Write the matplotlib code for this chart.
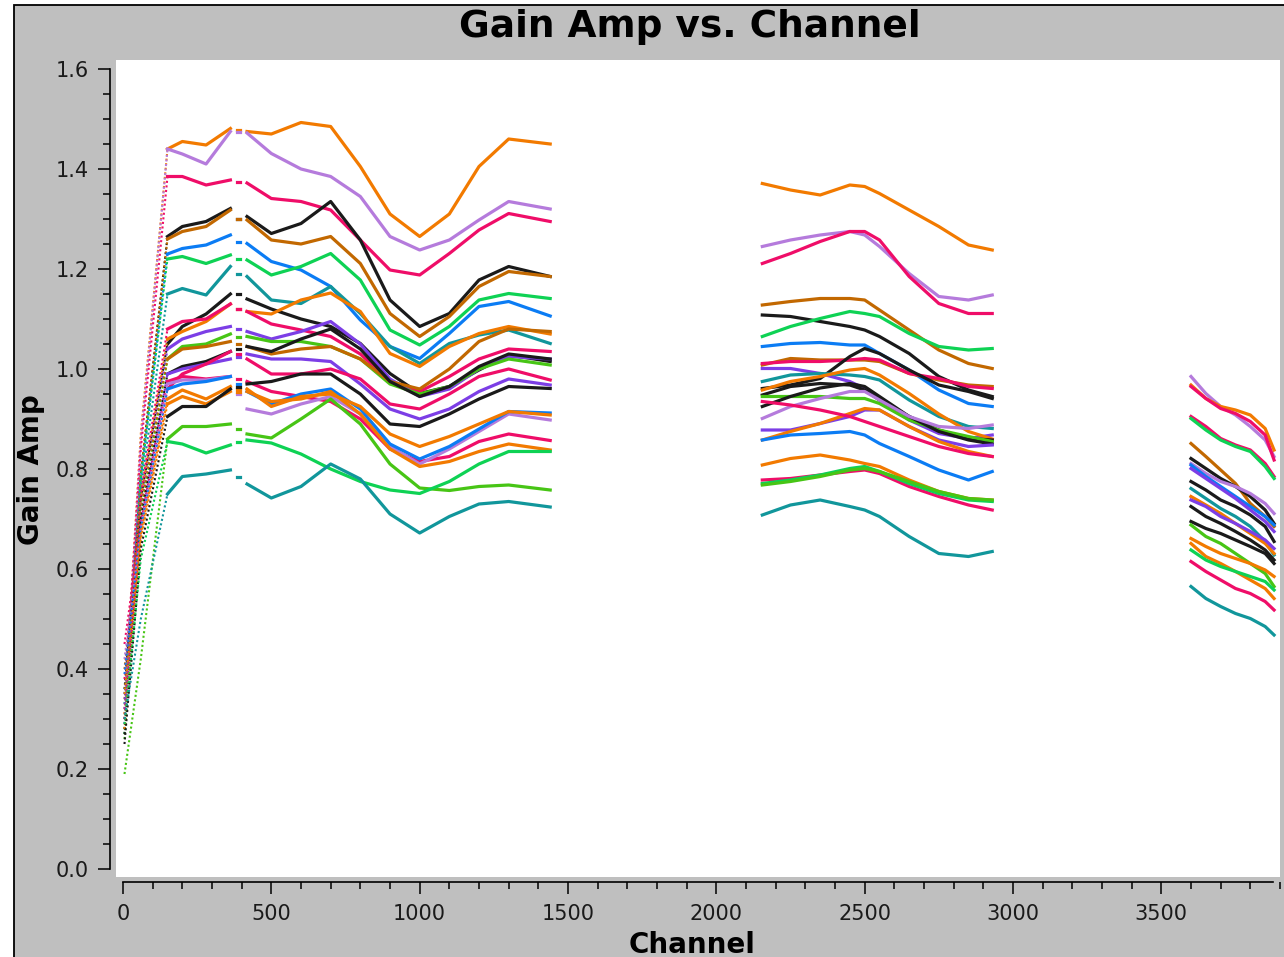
import matplotlib
matplotlib.use("Agg")
import matplotlib.pyplot as plt
from matplotlib.patches import Rectangle
from matplotlib.ticker import MultipleLocator

# plotms antenna colours
OR = "#f27a00"   # orange
LV = "#b57bdc"   # lavender
PK = "#ef0d68"   # pink
BK = "#1a1a1a"   # black
BR = "#c26800"   # brown
BL = "#0b7cf4"   # blue
GR = "#0ed254"   # green
TL = "#11969b"   # teal
VI = "#7c3ee6"   # violet
LI = "#47c515"   # lime

# ---- spw 0 : channels 5..1440 (ramp, short flagged gap around ch 370-415) ----
spw0_chan = [5, 60, 150, 200, 280, 362, 390, 418, 500, 600, 700, 800, 900, 1000, 1100, 1200, 1300, 1440]
spw0_colors = [OR, LV, PK, BK, BR, BL, GR, TL, BK, OR, PK, VI, LI, BR, BK, VI,
               PK, PK, LV, BL, OR, OR, BK, LI, GR, TL]
spw0_amp = [
    [0.32, 0.87, 1.44, 1.455, 1.448, 1.481, 1.478, 1.475, 1.470, 1.493, 1.485, 1.405, 1.310, 1.265, 1.310, 1.405, 1.460, 1.450],
    [0.30, 0.86, 1.44, 1.430, 1.410, 1.475, 1.475, 1.472, 1.431, 1.400, 1.385, 1.345, 1.265, 1.238, 1.258, 1.298, 1.335, 1.320],
    [0.34, 0.84, 1.385, 1.385, 1.368, 1.378, 1.375, 1.372, 1.341, 1.335, 1.318, 1.258, 1.198, 1.188, 1.231, 1.278, 1.311, 1.295],
    [0.28, 0.79, 1.265, 1.285, 1.295, 1.321, 1.300, 1.305, 1.271, 1.291, 1.335, 1.258, 1.138, 1.085, 1.111, 1.178, 1.205, 1.185],
    [0.30, 0.79, 1.26, 1.275, 1.285, 1.318, 1.300, 1.298, 1.258, 1.250, 1.265, 1.211, 1.111, 1.065, 1.105, 1.165, 1.195, 1.185],
    [0.35, 0.78, 1.23, 1.241, 1.248, 1.268, 1.255, 1.251, 1.215, 1.198, 1.165, 1.098, 1.045, 1.021, 1.071, 1.125, 1.135, 1.106],
    [0.27, 0.78, 1.22, 1.225, 1.211, 1.228, 1.220, 1.218, 1.188, 1.205, 1.231, 1.178, 1.078, 1.048, 1.085, 1.138, 1.151, 1.141],
    [0.33, 0.76, 1.15, 1.161, 1.148, 1.205, 1.190, 1.185, 1.138, 1.131, 1.165, 1.111, 1.045, 1.011, 1.051, 1.068, 1.078, 1.051],
    [0.36, 0.74, 1.05, 1.085, 1.110, 1.150, 1.150, 1.140, 1.120, 1.100, 1.085, 1.051, 0.991, 0.951, 0.965, 0.998, 1.028, 1.015],
    [0.31, 0.74, 1.06, 1.075, 1.095, 1.130, 1.120, 1.115, 1.110, 1.138, 1.152, 1.115, 1.031, 1.005, 1.045, 1.071, 1.085, 1.070],
    [0.38, 0.75, 1.08, 1.095, 1.100, 1.130, 1.120, 1.115, 1.090, 1.078, 1.065, 1.030, 0.975, 0.955, 0.985, 1.020, 1.040, 1.035],
    [0.29, 0.72, 1.04, 1.060, 1.075, 1.085, 1.080, 1.075, 1.060, 1.075, 1.095, 1.050, 0.980, 0.945, 0.960, 1.000, 1.025, 1.020],
    [0.26, 0.71, 1.02, 1.045, 1.050, 1.070, 1.065, 1.065, 1.055, 1.055, 1.045, 1.020, 0.970, 0.950, 0.965, 1.000, 1.020, 1.008],
    [0.40, 0.72, 1.02, 1.040, 1.045, 1.055, 1.050, 1.045, 1.030, 1.040, 1.045, 1.020, 0.975, 0.960, 1.000, 1.055, 1.080, 1.075],
    [0.27, 0.70, 0.99, 1.005, 1.015, 1.035, 1.040, 1.045, 1.035, 1.060, 1.080, 1.040, 0.975, 0.945, 0.965, 1.005, 1.030, 1.020],
    [0.32, 0.69, 0.99, 1.000, 1.010, 1.020, 1.025, 1.030, 1.020, 1.020, 1.015, 0.970, 0.920, 0.900, 0.920, 0.955, 0.980, 0.968],
    [0.30, 0.68, 0.96, 0.990, 1.010, 1.035, 1.030, 1.020, 0.990, 0.990, 1.000, 0.980, 0.930, 0.920, 0.950, 0.985, 1.000, 0.978],
    [0.45, 0.69, 0.975, 0.985, 0.980, 0.985, 0.980, 0.975, 0.955, 0.945, 0.935, 0.900, 0.840, 0.815, 0.825, 0.855, 0.870, 0.857],
    [0.42, 0.68, 0.97, 0.978, 0.978, 0.985, 0.950, 0.920, 0.910, 0.930, 0.945, 0.910, 0.845, 0.810, 0.840, 0.875, 0.910, 0.898],
    [0.39, 0.68, 0.96, 0.970, 0.975, 0.985, 0.970, 0.955, 0.930, 0.950, 0.960, 0.920, 0.850, 0.820, 0.845, 0.880, 0.915, 0.912],
    [0.35, 0.67, 0.94, 0.958, 0.940, 0.965, 0.960, 0.960, 0.925, 0.945, 0.950, 0.925, 0.870, 0.845, 0.865, 0.890, 0.915, 0.908],
    [0.28, 0.66, 0.93, 0.945, 0.930, 0.955, 0.955, 0.955, 0.935, 0.940, 0.955, 0.910, 0.840, 0.805, 0.815, 0.835, 0.850, 0.838],
    [0.25, 0.64, 0.905, 0.925, 0.925, 0.960, 0.965, 0.970, 0.975, 0.990, 0.990, 0.950, 0.890, 0.885, 0.910, 0.940, 0.965, 0.961],
    [0.19, 0.42, 0.86, 0.885, 0.885, 0.890, 0.880, 0.870, 0.862, 0.900, 0.940, 0.890, 0.810, 0.762, 0.757, 0.765, 0.768, 0.758],
    [0.29, 0.62, 0.855, 0.850, 0.832, 0.848, 0.855, 0.858, 0.852, 0.830, 0.800, 0.775, 0.758, 0.751, 0.775, 0.810, 0.835, 0.835],
    [0.30, 0.50, 0.75, 0.785, 0.790, 0.798, 0.785, 0.770, 0.742, 0.765, 0.810, 0.780, 0.710, 0.672, 0.705, 0.730, 0.735, 0.724],
]

# ---- spw 1 : channels 2155..2930 ----
spw1_chan = [2155, 2250, 2350, 2450, 2500, 2550, 2650, 2750, 2850, 2930]
spw1_colors = [OR, LV, PK, BR, BK, GR, BL, BR, PK, BK, VI, TL, OR,
               BK, LI, BK, LV, VI, OR, BL, PK, OR, PK, GR, LI, TL]
spw1_amp = [
    [1.371, 1.358, 1.348, 1.368, 1.365, 1.351, 1.318, 1.285, 1.248, 1.238],
    [1.245, 1.258, 1.268, 1.275, 1.268, 1.245, 1.191, 1.145, 1.138, 1.148],
    [1.211, 1.231, 1.255, 1.275, 1.275, 1.258, 1.185, 1.131, 1.111, 1.111],
    [1.128, 1.135, 1.141, 1.141, 1.138, 1.118, 1.078, 1.038, 1.011, 1.001],
    [1.108, 1.105, 1.095, 1.085, 1.078, 1.065, 1.031, 0.985, 0.958, 0.945],
    [1.065, 1.085, 1.101, 1.115, 1.111, 1.105, 1.071, 1.045, 1.038, 1.041],
    [1.045, 1.051, 1.053, 1.048, 1.048, 1.031, 0.998, 0.958, 0.931, 0.925],
    [1.008, 1.021, 1.018, 1.018, 1.018, 1.015, 0.991, 0.978, 0.968, 0.965],
    [1.011, 1.015, 1.015, 1.018, 1.021, 1.018, 0.991, 0.981, 0.965, 0.961],
    [0.961, 0.968, 0.981, 1.025, 1.041, 1.031, 0.998, 0.968, 0.955, 0.941],
    [1.001, 1.001, 0.991, 0.975, 0.961, 0.938, 0.898, 0.871, 0.861, 0.868],
    [0.975, 0.988, 0.991, 0.988, 0.985, 0.978, 0.938, 0.905, 0.885, 0.881],
    [0.958, 0.975, 0.985, 0.998, 1.001, 0.988, 0.951, 0.910, 0.875, 0.860],
    [0.948, 0.965, 0.971, 0.968, 0.958, 0.938, 0.905, 0.878, 0.861, 0.858],
    [0.945, 0.945, 0.945, 0.941, 0.941, 0.931, 0.898, 0.878, 0.865, 0.855],
    [0.925, 0.945, 0.962, 0.971, 0.965, 0.945, 0.905, 0.875, 0.858, 0.850],
    [0.901, 0.925, 0.941, 0.955, 0.955, 0.938, 0.905, 0.885, 0.881, 0.888],
    [0.878, 0.878, 0.891, 0.905, 0.918, 0.918, 0.885, 0.858, 0.845, 0.848],
    [0.858, 0.875, 0.891, 0.911, 0.921, 0.918, 0.885, 0.855, 0.835, 0.825],
    [0.858, 0.868, 0.871, 0.875, 0.868, 0.851, 0.825, 0.798, 0.778, 0.795],
    [0.935, 0.928, 0.918, 0.905, 0.895, 0.885, 0.865, 0.845, 0.831, 0.825],
    [0.808, 0.821, 0.828, 0.818, 0.811, 0.805, 0.778, 0.755, 0.741, 0.738],
    [0.778, 0.781, 0.788, 0.795, 0.798, 0.791, 0.765, 0.745, 0.728, 0.718],
    [0.771, 0.778, 0.788, 0.801, 0.805, 0.795, 0.771, 0.751, 0.738, 0.735],
    [0.768, 0.775, 0.785, 0.798, 0.801, 0.795, 0.775, 0.755, 0.741, 0.738],
    [0.708, 0.728, 0.738, 0.725, 0.718, 0.705, 0.665, 0.631, 0.625, 0.635],
]

# ---- spw 2 : channels 3600..3880 ----
spw2_chan = [3600, 3650, 3700, 3750, 3800, 3850, 3880]
spw2_colors = [LV, OR, PK, PK, GR, BR, BK, LV, BL, VI, BK,
               TL, OR, VI, BK, BK, LI, OR, OR, GR, PK, TL]
spw2_amp = [
    [0.985, 0.951, 0.925, 0.908, 0.885, 0.858, 0.825],
    [0.968, 0.941, 0.925, 0.918, 0.908, 0.881, 0.838],
    [0.965, 0.941, 0.921, 0.911, 0.895, 0.868, 0.818],
    [0.905, 0.885, 0.861, 0.848, 0.838, 0.811, 0.785],
    [0.901, 0.878, 0.858, 0.845, 0.835, 0.805, 0.781],
    [0.851, 0.825, 0.798, 0.771, 0.731, 0.705, 0.685],
    [0.821, 0.801, 0.781, 0.765, 0.745, 0.718, 0.691],
    [0.811, 0.791, 0.775, 0.765, 0.751, 0.731, 0.711],
    [0.808, 0.785, 0.765, 0.745, 0.725, 0.705, 0.688],
    [0.801, 0.781, 0.761, 0.741, 0.718, 0.695, 0.675],
    [0.775, 0.758, 0.738, 0.725, 0.708, 0.685, 0.655],
    [0.761, 0.741, 0.721, 0.705, 0.685, 0.655, 0.628],
    [0.745, 0.728, 0.711, 0.691, 0.671, 0.651, 0.631],
    [0.738, 0.725, 0.705, 0.691, 0.675, 0.658, 0.641],
    [0.725, 0.705, 0.691, 0.675, 0.658, 0.638, 0.618],
    [0.695, 0.681, 0.671, 0.658, 0.645, 0.631, 0.611],
    [0.688, 0.665, 0.651, 0.631, 0.611, 0.591, 0.565],
    [0.661, 0.645, 0.631, 0.621, 0.611, 0.598, 0.585],
    [0.651, 0.625, 0.611, 0.595, 0.578, 0.561, 0.541],
    [0.638, 0.618, 0.605, 0.595, 0.585, 0.575, 0.558],
    [0.615, 0.595, 0.578, 0.561, 0.551, 0.535, 0.518],
    [0.565, 0.541, 0.525, 0.511, 0.501, 0.485, 0.468],
]

W, H = 1284, 957
fig = plt.figure(figsize=(W / 100, H / 100), dpi=100, facecolor="white")
fig.patches.append(Rectangle((14 / W, -0.01), 1.0, 1 - 5 / H + 0.01, transform=fig.transFigure,
                             facecolor="#bfbfbf", edgecolor="black", lw=1.3, zorder=-5))

ax = fig.add_axes([116 / W, 1 - 877 / H, (1280 - 116) / W, (877 - 60) / H])
ax.set_facecolor("white")
LW = 2.3

# spw 0
for col, amp in zip(spw0_colors, spw0_amp):
    ax.plot(spw0_chan[:3], amp[:3], color=col, lw=1.5, ls=(0, (1, 1.2)))
    ax.plot(spw0_chan[2:6], amp[2:6], color=col, lw=LW)
    c = spw0_chan[6]
    ax.plot([c - 5, c + 5], [amp[6], amp[6]], color=col, lw=LW)
    ax.plot(spw0_chan[7:], amp[7:], color=col, lw=LW)

# spw 1 and 2
for chan, colors, amps in [(spw1_chan, spw1_colors, spw1_amp), (spw2_chan, spw2_colors, spw2_amp)]:
    for col, amp in zip(colors, amps):
        ax.plot(chan, amp, color=col, lw=LW)

ax.set_xlim(-23.6, 3900)
ax.set_ylim(-0.016, 1.618)
for s in ("top", "right"):
    ax.spines[s].set_visible(False)
ax.spines["left"].set_position(("outward", 4.3))
ax.spines["bottom"].set_position(("outward", 3.6))
ax.spines["left"].set_bounds(0, 1.6)
ax.spines["bottom"].set_bounds(0, 3875)
for s in ("left", "bottom"):
    ax.spines[s].set_linewidth(1.2)

ax.xaxis.set_major_locator(MultipleLocator(500))
ax.xaxis.set_minor_locator(MultipleLocator(100))
ax.yaxis.set_major_locator(MultipleLocator(0.2))
ax.yaxis.set_minor_locator(MultipleLocator(0.05))
ax.yaxis.set_major_formatter(plt.FuncFormatter(lambda v, p: f"{v:.1f}"))
ax.tick_params(which="major", length=8.5, width=1.1, labelsize=15, labelcolor="#1a1a1a", pad=7)
ax.tick_params(which="minor", length=5, width=1.1)

fig.text(690 / W, 1 - 27 / H, "Gain Amp vs. Channel", fontsize=27, fontweight="bold",
         ha="center", va="center")
fig.text(692 / W, 1 - 945 / H, "Channel", fontsize=20, fontweight="bold", ha="center", va="center")
fig.text(31 / W, 1 - 470 / H, "Gain Amp", fontsize=20, fontweight="bold", rotation=90,
         ha="center", va="center")

fig.savefig("out.png", dpi=100, facecolor=fig.get_facecolor())
